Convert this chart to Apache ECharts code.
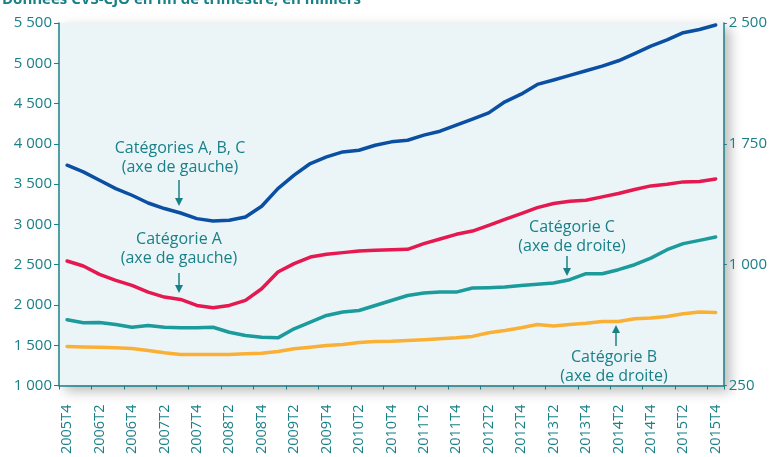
<!DOCTYPE html>
<html><head><meta charset="utf-8">
<script src="https://cdn.jsdelivr.net/npm/echarts@6/dist/echarts.min.js"></script>
<style>html,body{margin:0;padding:0;background:#fff}#c{width:770px;height:457px}</style>
</head><body><div id="c"></div>
<script>
const categories = ['2005T4','2006T1','2006T2','2006T3','2006T4','2007T1','2007T2','2007T3','2007T4','2008T1','2008T2','2008T3','2008T4','2009T1','2009T2','2009T3','2009T4','2010T1','2010T2','2010T3','2010T4','2011T1','2011T2','2011T3','2011T4','2012T1','2012T2','2012T3','2012T4','2013T1','2013T2','2013T3','2013T4','2014T1','2014T2','2014T3','2014T4','2015T1','2015T2','2015T3','2015T4'];
const catABC = [3735,3652,3548,3445,3362,3266,3197,3142,3072,3043,3051,3092,3225,3445,3611,3756,3838,3900,3921,3983,4025,4045,4108,4157,4232,4307,4385,4522,4617,4738,4792,4850,4907,4965,5031,5120,5214,5290,5380,5420,5475];
const catA = [2546,2484,2380,2306,2243,2160,2098,2069,1995,1966,1995,2057,2202,2409,2513,2595,2629,2650,2670,2678,2687,2691,2761,2819,2877,2918,2989,3064,3134,3209,3259,3287,3300,3342,3383,3433,3478,3499,3528,3532,3565];
const catC = [658,640,642,629,612,623,612,609,609,612,581,561,550,546,602,643,685,706,716,747,778,809,824,830,830,855,857,861,871,878,886,907,944,944,969,1000,1041,1093,1131,1151,1172];
const catB = [492,490,488,484,480,468,453,443,443,443,443,447,451,461,478,488,499,505,517,523,525,530,534,540,546,555,578,592,609,629,619,629,637,648,648,665,669,679,696,706,704];
const leftTicks = {min:1000, max:5500, interval:500};
const rightTicks = {min:250, max:2500, interval:750};
const titleText = 'Données CVS-CJO en fin de trimestre, en milliers';

const teal = '#1A8088';
const fmt = v => String(v).replace(/\B(?=(\d{3})+(?!\d))/g, ' ');
const chart = echarts.init(document.getElementById('c'));
const font = '"Open Sans", "Noto Sans", sans-serif';

function label(x, y, lines){
  return lines.map((t,i)=>({type:'text', x:x, y:y+i*19, style:{text:t, fill:teal, font:'16px '+font, textAlign:'center', textVerticalAlign:'middle'}}));
}
function arrow(x, y1, y2){
  const dir = y2>y1?1:-1;
  return [
    {type:'line', shape:{x1:x,y1:y1,x2:x,y2:y2-dir*6}, style:{stroke:teal, lineWidth:1.5}},
    {type:'polygon', shape:{points:[[x-4,y2-dir*8],[x+4,y2-dir*8],[x,y2]]}, style:{fill:teal}}
  ];
}

const ser = (name, data, idx, color) => ({
  name, type:'line', data, yAxisIndex:idx, symbol:'none', smooth:false,
  lineStyle:{color, width:3.5, cap:'round', join:'round'}, itemStyle:{color}
});

chart.setOption({
  animation:false,
  grid:{left:59, right:45, top:23, bottom:71, show:true, backgroundColor:'#EBF5F8', borderWidth:0,
        shadowColor:'rgba(0,0,0,0.28)', shadowBlur:12, shadowOffsetX:6, shadowOffsetY:5},
  xAxis:{type:'category', data:categories, boundaryGap:true,
    axisLine:{lineStyle:{color:teal, width:1.5}},
    axisTick:{show:true, length:4, lineStyle:{color:teal}},
    axisLabel:{rotate:90, interval:1, color:teal, fontSize:14.5, fontFamily:font, margin:19}},
  yAxis:[
    {type:'value', min:leftTicks.min, max:leftTicks.max, interval:leftTicks.interval, position:'left',
     axisLine:{show:true, lineStyle:{color:teal, width:1.5}}, axisTick:{show:true, length:5, lineStyle:{color:teal}},
     splitLine:{show:false}, axisLabel:{color:teal, fontSize:15, fontFamily:font, margin:7, formatter:fmt}},
    {type:'value', min:rightTicks.min, max:rightTicks.max, interval:rightTicks.interval, position:'right',
     axisLine:{show:true, lineStyle:{color:teal, width:1.5}}, axisTick:{show:true, length:3, lineStyle:{color:teal}},
     splitLine:{show:false}, axisLabel:{color:teal, fontSize:15, fontFamily:font, margin:5, formatter:fmt}}
  ],
  series:[
    ser('Catégorie B', catB, 1, '#F9B035'),
    ser('Catégorie C', catC, 1, '#1B9B9C'),
    ser('Catégorie A', catA, 0, '#E5194F'),
    ser('Catégories A, B, C', catABC, 0, '#0B4FA3')
  ],
  graphic:[
    {type:'text', x:2, y:7, style:{text:titleText, fill:teal, font:'bold 15px '+font, textVerticalAlign:'bottom'}},
    ...label(180,148,['Catégories A, B, C','(axe de gauche)']),
    ...arrow(179,180,206),
    ...label(179,239,['Catégorie A','(axe de gauche)']),
    ...arrow(179,273,293),
    ...label(572,227,['Catégorie C','(axe de droite)']),
    ...arrow(567,256,276),
    ...label(614,357,['Catégorie B','(axe de droite)']),
    ...arrow(616,346,325)
  ]
});
</script></body></html>
